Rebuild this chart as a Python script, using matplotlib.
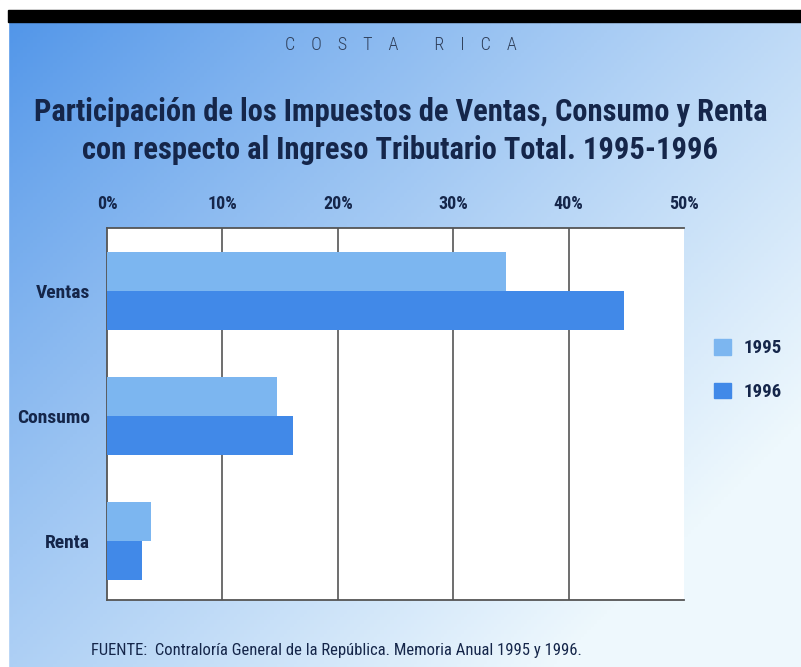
import numpy as np
import matplotlib
matplotlib.use("Agg")
import matplotlib.pyplot as plt
from matplotlib import font_manager
from matplotlib.patches import Patch, Rectangle

categories = ["Ventas", "Consumo", "Renta"]
years = ["1995", "1996"]
vals_1995 = [34.6, 14.7, 3.8]
vals_1996 = [44.8, 16.1, 3.0]
xticks = [0, 10, 20, 30, 40, 50]
xtick_labels = ["0%", "10%", "20%", "30%", "40%", "50%"]


def pick_font(names):
    for n in names:
        try:
            font_manager.findfont(font_manager.FontProperties(family=n), fallback_to_default=False)
            return n
        except Exception:
            pass
    return "DejaVu Sans"


cond = pick_font(["Roboto Condensed", "DejaVu Sans"])
plt.rcParams["font.family"] = [cond, "DejaVu Sans"]

navy = "#15264a"
c95 = "#7cb6f0"
c96 = "#4189e8"

fig = plt.figure(figsize=(8.01, 6.67), dpi=100)

# background gradient
bg = fig.add_axes([0, 0, 1, 1], zorder=-10)
h, w = 200, 240
yy, xx = np.mgrid[0:1:h * 1j, 0:1:w * 1j]
t = np.clip(0.65 * xx + 0.55 * yy, 0, 1) ** 0.85
c0 = np.array([74, 145, 232]) / 255
c1 = np.array([238, 248, 253]) / 255
img = c0[None, None, :] * (1 - t[..., None]) + c1[None, None, :] * t[..., None]
bg.imshow(img, aspect="auto", extent=[0, 1, 1, 0])
bg.set_xlim(0, 1)
bg.set_ylim(1, 0)
bg.axis("off")
# white margins and black top band
bg.add_patch(Rectangle((0, 0), 1, 10 / 667, color="white"))
bg.add_patch(Rectangle((0, 0), 8 / 801, 1, color="white"))
bg.add_patch(Rectangle((8 / 801, 10 / 667), 1, 12 / 667, color="black"))

ax = fig.add_axes([107 / 801, 1 - 600 / 667, (684 - 107) / 801, (600 - 228) / 667])
ax.set_facecolor("white")
y = np.arange(len(categories))
bh = 0.31
ax.barh(y - bh / 2, vals_1995, height=bh, color=c95, zorder=3)
ax.barh(y + bh / 2, vals_1996, height=bh, color=c96, zorder=3)
ax.set_xlim(0, 50)
ax.set_ylim(2.47, -0.504)
ax.set_xticks(xticks)
ax.set_xticklabels(xtick_labels, fontsize=13, fontweight="bold", color=navy)
ax.xaxis.tick_top()
ax.tick_params(axis="x", length=0, pad=11)
ax.set_yticks(y)
ax.set_yticklabels(categories, fontsize=14, fontweight="bold", color=navy)
ax.tick_params(axis="y", length=0, pad=12)
for v in xticks[1:-1]:
    ax.axvline(v, color="#555555", lw=1.2, zorder=2)
for s in ["top", "bottom", "left"]:
    ax.spines[s].set_color("#555555")
    ax.spines[s].set_linewidth(1.3)
ax.spines["right"].set_visible(False)

handles = [Patch(color=c95), Patch(color=c96)]
leg = fig.legend(handles, years, loc="center left", bbox_to_anchor=(697 / 801, 1 - 370 / 667),
                 frameon=False, handlelength=0.9, handleheight=0.9,
                 handletextpad=0.7, labelspacing=1.35, prop={"weight": "bold", "size": 13.5})
for txt in leg.get_texts():
    txt.set_color(navy)

fig.text(0.5, 1 - 45 / 667, "C    O    S    T    A         R    I    C    A", ha="center", va="center",
         fontsize=13, color="#2f3f5a", fontweight="light")
fig.text(0.5, 1 - 112 / 667, "Participación de los Impuestos de Ventas, Consumo y Renta",
         ha="center", va="center", fontsize=22, fontweight="bold", color=navy)
fig.text(0.5, 1 - 150 / 667, "con respecto al Ingreso Tributario Total. 1995-1996",
         ha="center", va="center", fontsize=22, fontweight="bold", color=navy)
fig.text(91 / 801, 1 - 651 / 667,
         "FUENTE:  Contraloría General de la República. Memoria Anual 1995 y 1996.",
         ha="left", va="center", fontsize=12, color=navy)

fig.savefig("out.png", dpi=100)
